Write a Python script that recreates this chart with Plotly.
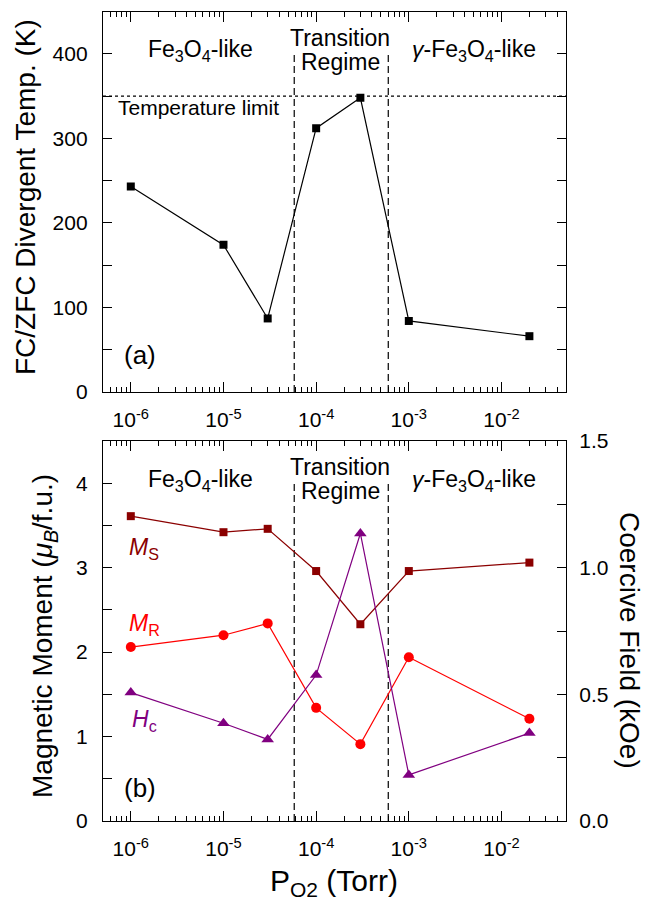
import plotly.graph_objects as go

# ---------------- data ----------------
pressure = [1e-6, 1e-5, 3e-5, 1e-4, 3e-4, 1e-3, 2e-2]          # P_O2 (Torr)
t_div = [243, 174, 87, 312, 348, 84, 66]                         # FC/ZFC divergent temp (K)
m_s = [3.61, 3.42, 3.46, 2.96, 2.33, 2.96, 3.06]                 # M_S (mu_B/f.u.)
m_r = [2.06, 2.20, 2.34, 1.34, 0.91, 1.94, 1.21]                 # M_R (mu_B/f.u.)
h_c = [0.507, 0.386, 0.322, 0.576, 1.135, 0.182, 0.347]          # H_c (kOe)
temp_limit = 350
regime_bounds = [5.8e-5, 6e-4]
x_tick_vals = [1e-6, 1e-5, 1e-4, 1e-3, 1e-2]
x_tick_text = ["10<sup>-6</sup>", "10<sup>-5</sup>", "10<sup>-4</sup>", "10<sup>-3</sup>", "10<sup>-2</sup>"]

W, H = 648, 904
FONT = "Liberation Sans, Arial, Helvetica, sans-serif"
DARKRED = "#8B0000"
RED = "#FF0000"
PURPLE = "#800080"


def px(x):
    return x / W


def py(y):
    return 1 - y / H


minor_x = [m * 10 ** e for e in range(-7, -1) for m in range(2, 10)]

fig = go.Figure()

# ---- panel (a) ----
for xb in regime_bounds:
    fig.add_trace(go.Scatter(x=[xb, xb], y=[0, 400], mode="lines",
                             line=dict(color="black", width=1.2, dash="7px,4px"),
                             xaxis="x", yaxis="y", showlegend=False, hoverinfo="skip"))
fig.add_trace(go.Scatter(x=pressure, y=t_div, mode="lines+markers",
                         line=dict(color="black", width=1.2),
                         marker=dict(symbol="square", size=8, color="black"),
                         xaxis="x", yaxis="y", showlegend=False))

# ---- panel (b) ----
for xb in regime_bounds:
    fig.add_trace(go.Scatter(x=[xb, xb], y=[0, 4], mode="lines",
                             line=dict(color="black", width=1.2, dash="7px,4px"),
                             xaxis="x2", yaxis="y2", showlegend=False, hoverinfo="skip"))
fig.add_trace(go.Scatter(x=pressure, y=m_s, mode="lines+markers",
                         line=dict(color=DARKRED, width=1.2),
                         marker=dict(symbol="square", size=8, color=DARKRED),
                         xaxis="x2", yaxis="y2", showlegend=False))
fig.add_trace(go.Scatter(x=pressure, y=m_r, mode="lines+markers",
                         line=dict(color=RED, width=1.2),
                         marker=dict(symbol="circle", size=10, color=RED),
                         xaxis="x2", yaxis="y2", showlegend=False))
fig.add_trace(go.Scatter(x=pressure, y=h_c, mode="lines+markers",
                         line=dict(color=PURPLE, width=1.2),
                         marker=dict(symbol="triangle-up", size=11, color=PURPLE),
                         xaxis="x2", yaxis="y3", showlegend=False))

xdom = [px(103), px(566)]
ydom_a = [py(392), py(11.5)]
ydom_b = [py(821), py(441)]

common_x = dict(type="log", range=[-6.3, -1.304], domain=xdom,
                showline=True, linecolor="black", linewidth=1.3, mirror="ticks",
                ticks="inside", ticklen=10, tickwidth=1.2, tickcolor="black",
                tickmode="array", tickvals=x_tick_vals, ticktext=x_tick_text,
                tickfont=dict(family=FONT, size=21, color="black"),
                ticklabelstandoff=9, automargin=False,
                minor=dict(tickmode="array", tickvals=minor_x, ticks="inside",
                           ticklen=5, tickwidth=1.2, tickcolor="black"),
                showgrid=False, zeroline=False)

fig.update_layout(
    width=W, height=H,
    margin=dict(l=0, r=0, t=0, b=0, autoexpand=False),
    paper_bgcolor="white", plot_bgcolor="white",
    font=dict(family=FONT, color="black"),
    xaxis=dict(**common_x, anchor="y"),
    yaxis=dict(domain=ydom_a, range=[0, 450], anchor="x",
               showline=True, linecolor="black", linewidth=1.3, mirror="ticks",
               ticks="inside", ticklen=9, tickwidth=1.2, tickcolor="black",
               tickvals=[0, 100, 200, 300, 400],
               tickfont=dict(family=FONT, size=21, color="black"),
               ticklabelstandoff=10, automargin=False,
               minor=dict(dtick=50, ticks="inside", ticklen=9, tickwidth=1.2, tickcolor="black"),
               showgrid=False, zeroline=False),
    xaxis2=dict(**common_x, anchor="y2"),
    yaxis2=dict(domain=ydom_b, range=[0, 4.5], anchor="x2",
                showline=True, linecolor="black", linewidth=1.3, mirror=False,
                ticks="inside", ticklen=9, tickwidth=1.2, tickcolor="black",
                tickvals=[0, 1, 2, 3, 4],
                tickfont=dict(family=FONT, size=21, color="black"),
                ticklabelstandoff=10, automargin=False,
                minor=dict(dtick=0.5, ticks="inside", ticklen=9, tickwidth=1.2, tickcolor="black"),
                showgrid=False, zeroline=False),
    yaxis3=dict(range=[0, 1.5], overlaying="y2", side="right", anchor="x2",
                showline=True, linecolor="black", linewidth=1.3,
                ticks="inside", ticklen=9, tickwidth=1.2, tickcolor="black",
                tickvals=[0, 0.5, 1.0, 1.5], tickformat=".1f",
                tickfont=dict(family=FONT, size=21, color="black"),
                ticklabelstandoff=8, automargin=False,
                minor=dict(dtick=0.25, ticks="inside", ticklen=9, tickwidth=1.2, tickcolor="black"),
                showgrid=False, zeroline=False),
)

# temperature limit line
fig.add_shape(type="line", xref="x domain", yref="y", x0=0, x1=1,
              y0=temp_limit, y1=temp_limit,
              line=dict(color="black", width=1.2, dash="3px,3px"))


def ann(text, x, y, size=23, color="black", angle=0, xanchor="center", yanchor="middle"):
    fig.add_annotation(text=text, x=px(x), y=py(y), xref="paper", yref="paper",
                       showarrow=False, textangle=angle, xanchor=xanchor, yanchor=yanchor,
                       font=dict(family=FONT, size=size, color=color))


FE = "Fe<sub>3</sub>O<sub>4</sub>-like"
GFE = "<i>γ</i>-Fe<sub>3</sub>O<sub>4</sub>-like"

# panel (a) texts
ann(FE, 200, 51)
ann("Transition", 340, 38)
ann("Regime", 340, 62)
ann(GFE, 474, 51)
ann("Temperature limit", 116, 108, size=21, xanchor="left")
ann("(a)", 140, 355, size=26)

# panel (b) texts
ann(FE, 200, 480)
ann("Transition", 340, 467)
ann("Regime", 340, 491)
ann(GFE, 474, 480)
ann("<i>M</i><sub>S</sub>", 144, 548, color=DARKRED)
ann("<i>M</i><sub>R</sub>", 144, 624, color=RED)
ann("<i>H</i><sub>c</sub>", 144, 720, color=PURPLE)
ann("(b)", 140, 788, size=26)

# axis titles
ann("FC/ZFC Divergent Temp. (K)", 25, 197, size=28, angle=-90)
ann("Magnetic Moment (<i>μ<sub>B</sub></i>/f.u.)", 44, 636, size=28, angle=-90)
ann("Coercive Field (kOe)", 630, 640, size=28, angle=90)
ann("P<sub>O2</sub> (Torr)", 334, 882, size=30)

fig.write_html("out.html")
